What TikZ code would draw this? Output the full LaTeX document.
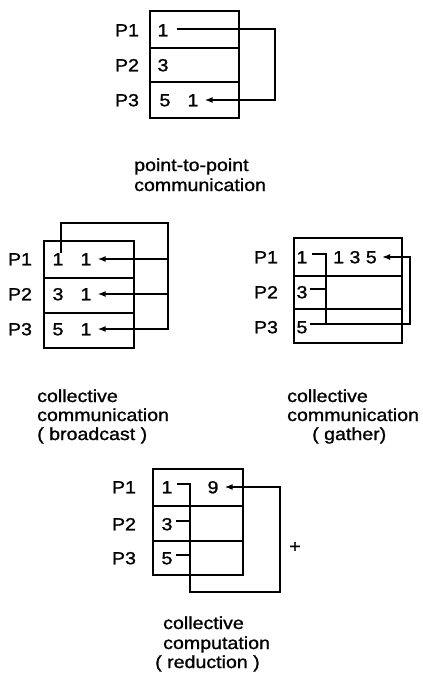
\documentclass[tikz,border=0pt]{standalone}
\usepackage{fontspec}
\setmainfont[FakeStretch=1.12,FakeBold=1.2]{Liberation Sans}
\usetikzlibrary{arrows.meta}
\begin{document}
\begin{tikzpicture}[x=1pt,y=-1pt,
  lbl/.style={font=\fontsize{17.5}{17.5}\selectfont, inner sep=0pt, text height=12.5pt, text depth=0pt},
  capline/.style={font=\fontsize{17.5}{17.5}\selectfont, inner sep=0pt, anchor=base west},
  ln/.style={line width=1.5pt},
  arr/.style={line width=1.5pt, -{Latex[length=8pt,width=6pt]}},
  boxline/.style={line width=1.5pt}]
\useasboundingbox (0,0) rectangle (423,675);

% ---------- point-to-point ----------
\draw[boxline] (150,11) rectangle (239,118);
\draw[boxline] (150,48) -- (239,48) (150,82) -- (239,82);
\node[lbl] (ap1) at (127,30) {P1};
\node[lbl] (ap2) at (127,65) {P2};
\node[lbl] (ap3) at (127,100) {P3};
\node[lbl] (a11) at (163,30) {1};
\node[lbl] (a21) at (163,65) {3};
\node[lbl] (a31) at (165,100) {5};
\node[lbl] (a32) at (193,100) {1};
\coordinate (ar) at (275,0);
\draw[arr] ([xshift=8pt,yshift=1pt]a11.east) -| (ar |- a32) -- ([xshift=6pt]a32.east);
\node[capline] (acap1) at (134,171) {point-to-point};
\node[capline] (acap2) at (134,191) {communication};

% ---------- broadcast ----------
\draw[boxline] (44,241) rectangle (134,348);
\draw[boxline] (44,278) -- (134,278) (44,313) -- (134,313);
\node[lbl] (bp1) at (20,259) {P1};
\node[lbl] (bp2) at (20,294) {P2};
\node[lbl] (bp3) at (20,329) {P3};
\node[lbl] (b11) at (58,259) {1};
\node[lbl] (b12) at (86,259) {1};
\node[lbl] (b21) at (58,294) {3};
\node[lbl] (b22) at (86,294) {1};
\node[lbl] (b31) at (58,329) {5};
\node[lbl] (b32) at (86,329) {1};
\coordinate (btop) at (168,223);
\draw[arr] ([xshift=3pt]b11.north) |- (btop) |- ([xshift=6pt]b32.east);
\draw[arr] (btop |- b12) -- ([xshift=6pt]b12.east);
\draw[arr] (btop |- b22) -- ([xshift=6pt]b22.east);
\node[capline] (bcap1) at (37,402) {collective};
\node[capline] (bcap2) at (37,421) {communication};
\node[capline] (bcap3) at (37,440) {( broadcast )};

% ---------- gather ----------
\draw[boxline] (294,238) rectangle (402,343);
\draw[boxline] (294,276) -- (402,276) (294,309) -- (402,309);
\node[lbl] (gp1) at (266,257) {P1};
\node[lbl] (gp2) at (266,292) {P2};
\node[lbl] (gp3) at (266,327) {P3};
\node[lbl] (g1) at (302,257) {1};
\node[lbl] (g2) at (302,292) {3};
\node[lbl] (g3) at (302,327) {5};
\node[lbl] (g4) at (355,257) {1 3 5};
\coordinate (gv) at (326,324);
\coordinate (gr) at (410,0);
\coordinate (g2t) at ([xshift=2pt,yshift=3pt]g2.east);
\draw[ln] ([xshift=4pt,yshift=3pt]g1.east) -| (gv);
\draw[ln] (g2t) -- (gv |- g2t);
\draw[arr] ([xshift=2pt,yshift=3pt]g3.east) -| (gr |- g4) -- ([xshift=5pt]g4.east);
\node[capline] (gcap1) at (287,402) {collective};
\node[capline] (gcap2) at (287,421) {communication};
\node[capline] (gcap3) at (312,440) {( gather)};

% ---------- reduction ----------
\draw[boxline] (153,469) rectangle (243,575);
\draw[boxline] (153,506) -- (243,506) (153,541) -- (243,541);
\node[lbl] (rp1) at (124,487) {P1};
\node[lbl] (rp2) at (124,524) {P2};
\node[lbl] (rp3) at (124,558) {P3};
\node[lbl] (r1) at (167,487) {1};
\node[lbl] (r9) at (213,487) {9};
\node[lbl] (r3) at (167,524) {3};
\node[lbl] (r5) at (167,558) {5};
\coordinate (rb) at (190,592);
\coordinate (rr) at (280,592);
\coordinate (r3t) at ([xshift=3pt,yshift=3pt]r3.east);
\coordinate (r5t) at ([xshift=3pt,yshift=3pt]r5.east);
\draw[arr] ([xshift=4pt,yshift=3pt]r1.east) -| (rb) -| (rr |- r9) -- ([xshift=6pt]r9.east);
\draw[ln] (r3t) -- (rb |- r3t);
\draw[ln] (r5t) -- (rb |- r5t);
\node[lbl] (plus) at (295,546) {+};
\node[capline] (rcap1) at (163,629) {collective};
\node[capline] (rcap2) at (163,649) {computation};
\node[capline] (rcap3) at (155,668) {( reduction )};
\end{tikzpicture}
\end{document}
